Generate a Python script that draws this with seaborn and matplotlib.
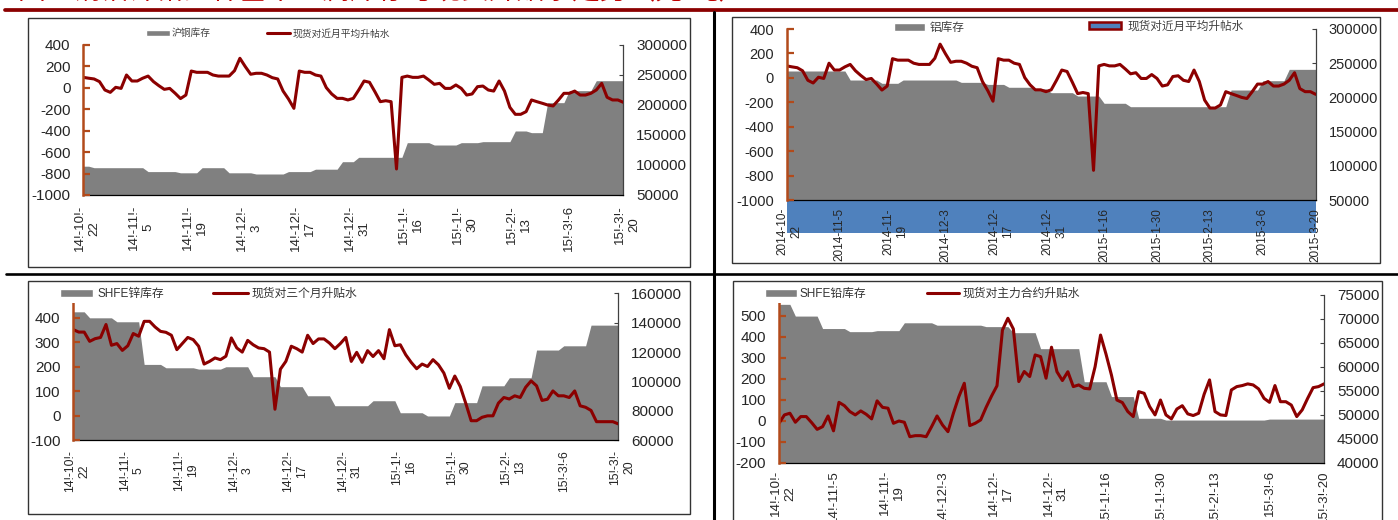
import numpy as np
import matplotlib
matplotlib.use("Agg")
import matplotlib.pyplot as plt
import matplotlib.transforms as mtransforms
from matplotlib.patches import Patch, Rectangle
from matplotlib.lines import Line2D
import seaborn as sns

W, H = 1398, 520
RED = "#8B0000"
GRAY = "#808080"
ORANGE = "#B24A1B"
BLUE = "#4F81BD"

# trading days 2014-10-22 .. 2015-03-20, a label every 10 days
tick_pos = [0, 10, 20, 30, 40, 50, 60, 70, 80, 90, 100]
labels_bang = ["14!-10!-\n22", "14!-11!-\n5", "14!-11!-\n19", "14!-12!-\n3", "14!-12!-\n17",
               "14!-12!-\n31", "15!-1!-\n16", "15!-1!-\n30", "15!-2!-\n13", "15!-3!-6", "15!-3!-\n20"]
labels_full = ["2014-10-\n22", "2014-11-5", "2014-11-\n19", "2014-12-3", "2014-12-\n17",
               "2014-12-\n31", "2015-1-16", "2015-1-30", "2015-2-13", "2015-3-6", "2015-3-20"]
labels_lead = ["14!-10!-\n22", "14!-11!-5", "14!-11!-\n19", "14!-12!-3", "14!-12!-\n17",
               "14!-12!-\n31", "15!-1!-16", "15!-1!-30", "15!-2!-13", "15!-3!-6", "15!-3!-20"]

# 现货对近月平均升帖水 (copper / aluminium panels)
basis_cu = [98, 90, 83, 58, -20, -42, 5, -5, 120, 64,
            64, 90, 110, 58, 20, -14, -5, -50, -100, -67,
            157, 145, 145, 145, 120, 110, 110, 110, 160, 276,
            198, 127, 136, 136, 120, 95, 83, -30, -104, -191,
            157, 145, 145, 120, 110, 2, -57, -98, -98, -113,
            -98, -20, 64, 52, -36, -129, -120, -129, -757, 98,
            110, 98, 98, 110, 73, 33, 42, -5, -5, 27,
            -5, -67, -57, 11, 17, -20, -30, 64, -30, -182,
            -247, -247, -222, -113, -129, -144, -160, -169, -113, -51,
            -51, -30, -67, -67, -51, -20, 42, -88, -113, -113,
            -135]

inv_cu = [98000, 98000,
          95500, 95500, 95500, 95500, 95500, 95500, 95500, 95500, 95500, 95500,
          89000, 89000, 89000, 89000, 89000, 89000,
          87000, 87000, 87000, 87000,
          95500, 95500, 95500, 95500, 95500,
          87000, 87000, 87000, 87000, 87000,
          85000, 85000, 85000, 85000, 85000, 85000,
          89000, 89000, 89000, 89000, 89000,
          93000, 93000, 93000, 93000, 93000,
          105500, 105500, 105500,
          112800, 112800, 112800, 112800, 112800, 112800, 112800, 112800, 112800,
          137200, 137200, 137200, 137200, 137200,
          133300, 133300, 133300, 133300, 133300,
          137200, 137200, 137200, 137200,
          138900, 138900, 138900, 138900, 138900, 138900,
          156700, 156700, 156700,
          153900, 153900, 153900,
          203900, 203900, 203900, 203900,
          223900, 223900, 223900, 223900, 223900,
          240500, 240500, 240500, 240500, 240500, 240500]

inv_al = [238600, 238600, 238600, 238600, 238600, 238600, 238600, 238600, 238600, 238600, 238600, 238600,
          225400, 225400, 225400, 225400, 225400, 225400,
          220600, 220600, 220600, 220600,
          225400, 225400, 225400, 225400, 225400, 225400, 225400, 225400, 225400, 225400, 225400,
          222000, 222000, 222000, 222000, 222000,
          219000, 219000, 219000, 219000,
          214800, 214800, 214800, 214800, 214800,
          212500, 212500, 212500,
          206900, 206900, 206900, 206900, 206900,
          202000, 202000, 202000, 202000, 202000,
          191400, 191400, 191400, 191400, 191400,
          186400, 186400, 186400, 186400, 186400, 186400, 186400, 186400, 186400, 186400,
          186400, 186400, 186400, 186400, 186400, 186400, 186400, 186400, 186400,
          210800, 210800, 210800, 210800, 210800, 210800,
          224400, 224400, 224400, 224400, 224400,
          241000, 241000, 241000, 241000, 241000, 241000]

# 现货对三个月升贴水 / SHFE锌库存
basis_zn = [352, 342, 342, 304, 315, 320, 373, 288, 295, 267,
            286, 336, 325, 386, 386, 363, 345, 341, 329, 270,
            295, 320, 311, 284, 211, 222, 236, 229, 243, 318,
            277, 260, 308, 290, 277, 274, 260, 26, 190, 222,
            284, 274, 260, 329, 295, 314, 314, 297, 274, 295,
            320, 222, 259, 218, 266, 242, 266, 233, 352, 286,
            290, 249, 218, 192, 211, 201, 229, 208, 174, 112,
            162, 119, 51, -21, -21, -7, -1, -1, 51, 74,
            68, 81, 74, 116, 142, 122, 62, 67, 101, 81,
            81, 74, 101, 40, 34, 21, -25, -25, -25, -25,
            -34]

inv_zn = [147500, 147500, 147500,
          143400, 143400, 143400, 143400, 143400,
          140700, 140700, 140700, 140700, 140700,
          111600, 111600, 111600, 111600,
          109300, 109300, 109300, 109300, 109300, 109300,
          108400, 108400, 108400, 108400, 108400,
          110000, 110000, 110000, 110000, 110000,
          103200, 103200, 103200, 103200, 103200,
          96400, 96400, 96400, 96400, 96400,
          90200, 90200, 90200, 90200, 90200,
          83400, 83400, 83400, 83400, 83400, 83400, 83400,
          86800, 86800, 86800, 86800, 86800,
          78600, 78600, 78600, 78600, 78600,
          76400, 76400, 76400, 76400, 76400,
          85500, 85500, 85500, 85500, 85500,
          97000, 97000, 97000, 97000, 97000,
          102500, 102500, 102500, 102500, 102500,
          121400, 121400, 121400, 121400, 121400,
          124300, 124300, 124300, 124300, 124300,
          138400, 138400, 138400, 138400, 138400, 138400]

# 现货对主力合约升贴水 / SHFE铅库存
basis_pb = [-12, 28, 36, -7, 20, 20, -9, -41, -28, 23,
            -48, 88, 72, 44, 28, 47, 31, 9, 95, 64,
            60, -12, -1, -7, -76, -71, -71, -76, -28, 23,
            -20, -52, 36, 115, 179, -23, -12, 4, 64, 118,
            167, 433, 489, 438, 187, 235, 211, 314, 306, 203,
            351, 234, 192, 234, 163, 171, 155, 152, 258, 409,
            318, 218, 99, 87, 44, 20, 139, 131, 68, 28,
            99, 28, 9, 56, 72, 33, 25, 36, 126, 195,
            44, 28, 25, 147, 163, 168, 176, 171, 152, 107,
            88, 168, 91, 91, 75, 20, 52, 107, 158, 163,
            176]

inv_pb = [73050, 73050, 73050,
          70600, 70600, 70600, 70600, 70600,
          68000, 68000, 68000, 68000, 68000,
          67350, 67350, 67350, 67350, 67350,
          67560, 67560, 67560, 67560, 67560,
          69200, 69200, 69200, 69200, 69200, 69200,
          68700, 68700, 68700, 68700, 68700, 68700, 68700, 68700, 68700,
          68400, 68400, 68400, 68400, 68400,
          67140, 67140, 67140, 67140, 67140,
          63800, 63800, 63800, 63800, 63800, 63800, 63800, 63800,
          56900, 56900, 56900, 56900, 56900,
          53800, 53800, 53800, 53800, 53800,
          49270, 49270, 49270, 49270, 49270,
          48900, 48900, 48900, 48900, 48900, 48900, 48900, 48900, 48900, 48900,
          48900, 48900, 48900, 48900, 48900, 48900, 48900, 48900, 48900,
          49100, 49100, 49100, 49100, 49100, 49100, 49100, 49100, 49100, 49100, 49100]

sns.set_style("white")
plt.rcParams["font.family"] = ["Liberation Sans", "Noto Sans CJK SC", "DejaVu Sans"]

fig = plt.figure(figsize=(W / 100, H / 100), dpi=100)


def px_rect(x0, y0, x1, y1):
    return [x0 / W, 1 - y1 / H, (x1 - x0) / W, (y1 - y0) / H]


def panel(rect, inv, basis, yl, ytl, yr, ytr, xlabels, xfs, yfs, xpad, shift):
    ax = fig.add_axes(rect)          # inventory area, right scale
    axl = ax.twinx()                 # basis line, left scale
    ax.yaxis.tick_right()
    axl.yaxis.tick_left()
    days = np.arange(len(inv))
    ax.fill_between(days, yr[0], inv, color=GRAY, lw=0, zorder=1)
    sns.lineplot(x=days, y=basis, ax=axl, color=RED, linewidth=2.2)
    ax.set_xlim(0, len(inv) - 1)
    ax.set_ylim(yr)
    axl.set_ylim(yl)
    ax.set_yticks(ytr)
    ax.set_yticklabels([str(v) for v in ytr])
    axl.set_yticks(ytl)
    axl.set_yticklabels([str(v) for v in ytl])
    axl.set_xlabel("")
    axl.set_ylabel("")
    ax.set_xticks(days, minor=True)
    ax.set_xticks(tick_pos)
    ax.set_xticklabels(xlabels, rotation=90, ha="center", va="top",
                       multialignment="center", fontsize=xfs)
    ax.tick_params(axis="x", which="both", direction="in", length=3, width=0.8,
                   color="black", pad=xpad)
    ax.tick_params(axis="y", direction="in", length=3, width=0.8, color="#404040",
                   labelsize=yfs, pad=9.3)
    axl.tick_params(axis="y", direction="in", length=5, width=1.6, color=ORANGE,
                    labelsize=yfs, pad=9.3)
    for s in ["top", "left"]:
        ax.spines[s].set_visible(False)
    ax.spines["right"].set_color("#404040")
    ax.spines["right"].set_linewidth(0.9)
    ax.spines["bottom"].set_color("black")
    ax.spines["bottom"].set_linewidth(0.9)
    for s in ["top", "right", "bottom"]:
        axl.spines[s].set_visible(False)
    axl.spines["left"].set_color(ORANGE)
    axl.spines["left"].set_linewidth(1.8)
    off = mtransforms.ScaledTranslation(shift / 100, 0, fig.dpi_scale_trans)
    for t in ax.get_xticklabels():
        if "\n" in t.get_text():
            t.set_transform(t.get_transform() + off)
    return ax, axl


def put_legend(handle, label, x, y, hl, fs, gap, hh=0.7, color="#404040"):
    fsp = fs * 100 / 72
    fig.legend([handle], [label], loc="center left", bbox_to_anchor=(x / W, 1 - y / H),
               frameon=False, borderpad=0, borderaxespad=0, handlelength=hl / fsp,
               handleheight=hh, handletextpad=gap / fsp, prop={"size": fs},
               labelcolor=color)


# panel 1: copper
panel(px_rect(83.3, 45, 623.3, 195), inv_cu, basis_cu, (-1000, 400), list(range(-1000, 401, 200)),
      (50000, 300000), list(range(50000, 300001, 50000)), labels_bang, 9.5, 11, 7.2, 4)
put_legend(Patch(facecolor=GRAY), "沪铜库存", 145.7, 33.3, 24, 7, 2, hh=0.57)
put_legend(Line2D([], [], color=RED, lw=2.2), "现货对近月平均升帖水", 267, 33.3, 23, 7, 3)

# panel 2: aluminium
ax2, _ = panel(px_rect(786.7, 29, 1315.7, 200), inv_al, basis_cu, (-1000, 400), list(range(-1000, 401, 200)),
               (50000, 300000), list(range(50000, 300001, 50000)), labels_full, 8.5, 10.5, 5.8, 3)
ax2.add_patch(Rectangle((0, -33 / 171), 1, 33 / 171, transform=ax2.transAxes, facecolor=BLUE,
                        edgecolor="none", clip_on=False, zorder=0.5))
put_legend(Patch(facecolor=GRAY), "铝库存", 894, 28, 31, 8.4, 5, hh=0.6)
put_legend(Patch(facecolor=BLUE, edgecolor=RED, linewidth=1.8), "现货对近月平均升帖水",
           1089, 27, 32, 8.4, 6, hh=0.55)

# panel 3: zinc
panel(px_rect(73.3, 293.5, 618.3, 440), inv_zn, basis_zn, (-100, 500), list(range(-100, 401, 100)),
      (60000, 160000), list(range(60000, 160001, 20000)), labels_bang, 8.8, 11, 7.2, 4)
fig.patches.append(Rectangle((35 / W, 1 - 303 / H), 352 / W, 20 / H, transform=fig.transFigure,
                             facecolor="white", edgecolor="none", zorder=3))
put_legend(Patch(facecolor=GRAY), "SHFE锌库存", 60, 294, 33, 8.5, 4, hh=0.65, color="#333333")
put_legend(Line2D([], [], color=RED, lw=2.2), "现货对三个月升贴水", 213, 294, 35, 8.5, 4, color="#333333")

# panel 4: lead
panel(px_rect(779, 295, 1324, 462.7), inv_pb, basis_pb, (-200, 600), list(range(-200, 501, 100)),
      (40000, 75000), list(range(40000, 75001, 5000)), labels_lead, 9.5, 11, 5.3, 4)
fig.patches.append(Rectangle((740 / W, 1 - 303 / H), 350 / W, 20 / H, transform=fig.transFigure,
                             facecolor="white", edgecolor="none", zorder=3))
put_legend(Patch(facecolor=GRAY), "SHFE铅库存", 765, 294, 32, 8.5, 3, hh=0.65, color="#333333")
put_legend(Line2D([], [], color=RED, lw=2.2), "现货对主力合约升贴水", 927, 294, 32, 8.5, 4, color="#333333")

# panel frames
for x0, y0, x1, y1 in [(28, 18, 690, 267), (732, 17, 1380, 263), (28, 281, 690, 514), (733, 281, 1382, 535)]:
    fig.patches.append(Rectangle((x0 / W, 1 - y1 / H), (x1 - x0) / W, (y1 - y0) / H,
                                 transform=fig.transFigure, fill=False, edgecolor="#333333",
                                 lw=1.0, zorder=4))

# page title (only its lower edge is inside the crop) and rules
fig.text(18 / W, 1 + 0.8 / H, "图：铜铝锌铅四种基本金属库存与现货升贴水走势（元/吨）", color="#C00000",
         fontsize=20, ha="left", va="baseline")
fig.add_artist(Line2D([5 / W, 1], [1 - 9.8 / H] * 2, color=RED, lw=2.7, transform=fig.transFigure))
fig.add_artist(Line2D([713.5 / W] * 2, [0, 1 - 12 / H], color="black", lw=2.2, transform=fig.transFigure))
fig.add_artist(Line2D([6 / W, 1], [1 - 273.8 / H] * 2, color="black", lw=1.9, transform=fig.transFigure))

fig.savefig("out.png", dpi=100)
